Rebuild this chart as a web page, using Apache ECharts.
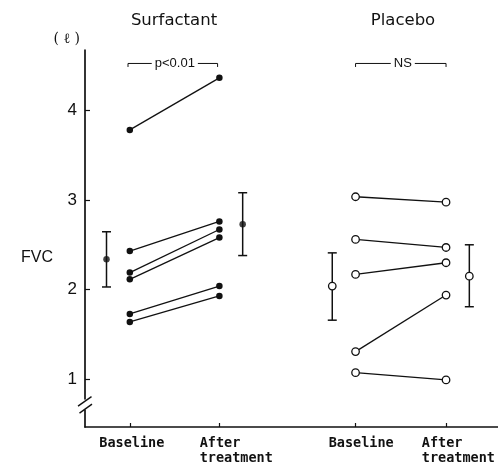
<!DOCTYPE html>
<html>
<head>
<meta charset="utf-8">
<script src="https://cdn.jsdelivr.net/npm/echarts@6/dist/echarts.min.js"></script>
<style>
  html, body { margin: 0; padding: 0; background: #fff; }
  #chart { width: 498px; height: 467px; }
</style>
</head>
<body>
<div id="chart"></div>
<script>
// FVC (litres) per patient, before and after treatment
const groupNames = ['Surfactant', 'Placebo'];
const timeLabels = ['Baseline', 'After\ntreatment'];
const yTicks = [1, 2, 3, 4];

const surfactantBaseline = [3.78, 2.43, 2.19, 2.115, 1.73, 1.64];
const surfactantAfter    = [4.36, 2.76, 2.67, 2.58, 2.04, 1.93];
const placeboBaseline    = [3.035, 2.56, 2.17, 1.31, 1.075];
const placeboAfter       = [2.975, 2.47, 2.30, 1.94, 0.995];

// group mean with lower / upper SD limits: [baseline, after]
const surfactantMean = [2.34, 2.73];
const surfactantLow  = [2.03, 2.38];
const surfactantHigh = [2.645, 3.08];
const placeboMean    = [2.04, 2.15];
const placeboLow     = [1.66, 1.81];
const placeboHigh    = [2.41, 2.50];

const significance = ['p<0.01', 'NS'];

// ---- layout (x positions on the horizontal value axis) ----
const slotX = { surfactant: [0.5, 1.5], placebo: [3.02, 4.03] };
const meanOffset = 0.26;
const labelLeftX = [0.16, 1.28, 2.72, 3.76];
const bracketY = 4.52;
const breakY = 0.72;

const ink = '#111';
const monoFont = '"DejaVu Sans Mono", monospace';

const tickXs = [...slotX.surfactant, ...slotX.placebo];
const labelText = {};
labelLeftX.forEach((v, i) => { labelText[v.toFixed(2)] = timeLabels[i % 2]; });

function pairSeries(base, after, xs, filled) {
  return base.map((b, i) => ({
    type: 'line',
    data: [[xs[0], b], [xs[1], after[i]]],
    symbol: 'circle',
    symbolSize: filled ? 6.5 : 7.5,
    lineStyle: { color: ink, width: 1.3 },
    itemStyle: filled
      ? { color: ink }
      : { color: '#fff', borderColor: ink, borderWidth: 1.3 },
    z: 3,
    silent: true
  }));
}

function meanRows(xs, mean, low, high) {
  return [
    [xs[0] - meanOffset, mean[0], low[0], high[0]],
    [xs[1] + meanOffset, mean[1], low[1], high[1]]
  ];
}
const surfMeanRows = meanRows(slotX.surfactant, surfactantMean, surfactantLow, surfactantHigh);
const placMeanRows = meanRows(slotX.placebo, placeboMean, placeboLow, placeboHigh);

const errorBarSeries = {
  type: 'custom',
  data: [...surfMeanRows, ...placMeanRows],
  encode: { x: 0, y: [1, 2, 3] },
  silent: true,
  z: 2,
  renderItem(params, api) {
    const x = api.value(0);
    const lo = api.coord([x, api.value(2)]);
    const hi = api.coord([x, api.value(3)]);
    const half = 4.5;
    const st = { stroke: ink, lineWidth: 1.5 };
    return {
      type: 'group',
      children: [
        { type: 'line', shape: { x1: lo[0], y1: lo[1], x2: hi[0], y2: hi[1] }, style: st },
        { type: 'line', shape: { x1: lo[0] - half, y1: lo[1], x2: lo[0] + half, y2: lo[1] }, style: st },
        { type: 'line', shape: { x1: hi[0] - half, y1: hi[1], x2: hi[0] + half, y2: hi[1] }, style: st }
      ]
    };
  }
};

const bracketSeries = {
  type: 'custom',
  data: [
    [slotX.surfactant[0] - 0.02, slotX.surfactant[1] - 0.02, bracketY, significance[0]],
    [slotX.placebo[0], slotX.placebo[1], bracketY, significance[1]]
  ],
  encode: { x: [0, 1], y: 2 },
  silent: true,
  clip: false,
  renderItem(params, api) {
    const a = api.coord([api.value(0), api.value(2)]);
    const b = api.coord([api.value(1), api.value(2)]);
    const st = { stroke: ink, lineWidth: 1 };
    return {
      type: 'group',
      children: [
        { type: 'line', shape: { x1: a[0], y1: a[1], x2: b[0], y2: b[1] }, style: st },
        { type: 'line', shape: { x1: a[0], y1: a[1], x2: a[0], y2: a[1] + 3.5 }, style: st },
        { type: 'line', shape: { x1: b[0], y1: b[1], x2: b[0], y2: b[1] + 3.5 }, style: st },
        {
          type: 'text',
          x: (a[0] + b[0]) / 2 + 2,
          y: a[1],
          style: {
            text: api.value(3),
            fill: ink,
            font: '13px "Liberation Sans Narrow", "Liberation Sans", sans-serif',
            align: 'center',
            verticalAlign: 'middle',
            backgroundColor: '#fff',
            padding: [0, 3]
          }
        }
      ]
    };
  }
};

const axisBreakSeries = {
  type: 'custom',
  data: [[0, breakY]],
  silent: true,
  clip: false,
  z: 10,
  renderItem(params, api) {
    const c = api.coord([api.value(0), api.value(1)]);
    const st = { stroke: ink, lineWidth: 1.4 };
    return {
      type: 'group',
      children: [
        { type: 'rect', shape: { x: c[0] - 3, y: c[1] - 5, width: 6, height: 10 }, style: { fill: '#fff' } },
        { type: 'line', shape: { x1: c[0] - 7, y1: c[1] + 1.5, x2: c[0] + 6.5, y2: c[1] - 8 }, style: st },
        { type: 'line', shape: { x1: c[0] - 5.5, y1: c[1] + 8.5, x2: c[0] + 7, y2: c[1] - 0.5 }, style: st }
      ]
    };
  }
};

const option = {
  animation: false,
  backgroundColor: '#fff',
  title: [
    { text: groupNames[0], left: 169, top: 7, textAlign: 'center',
      textStyle: { fontFamily: '"DejaVu Sans", sans-serif', fontSize: 16.5, fontWeight: 'normal', color: ink } },
    { text: groupNames[1], left: 398, top: 7, textAlign: 'center',
      textStyle: { fontFamily: '"DejaVu Sans", sans-serif', fontSize: 16.5, fontWeight: 'normal', color: ink } },
    { text: 'FVC', left: 16, top: 245,
      textStyle: { fontFamily: '"Liberation Sans", sans-serif', fontSize: 16, fontWeight: 'normal', color: ink } }
  ],
  grid: { left: 85, right: 0, top: 50, bottom: 40, containLabel: false },
  xAxis: {
    type: 'value',
    min: 0,
    max: 4.61,
    axisLine: { show: true, lineStyle: { color: ink, width: 1.6 } },
    axisTick: { show: true, inside: true, length: 4, customValues: tickXs, lineStyle: { color: ink, width: 1.2 } },
    axisLabel: {
      show: true,
      customValues: labelLeftX,
      align: 'left',
      margin: 9,
      color: ink,
      fontFamily: monoFont,
      fontWeight: 'bold',
      fontSize: 13.5,
      lineHeight: 15,
      formatter: (v) => labelText[v.toFixed(2)] || ''
    },
    splitLine: { show: false }
  },
  yAxis: {
    type: 'value',
    min: 0.47,
    max: 4.67,
    name: '( \u2113 )',
    nameLocation: 'end',
    nameGap: 4,
    nameTextStyle: {
      fontFamily: '"DejaVu Serif", serif', fontSize: 14, color: ink,
      align: 'right', padding: [0, 5, 0, 0]
    },
    axisLine: { show: true, lineStyle: { color: ink, width: 1.7 } },
    axisTick: { show: true, inside: true, length: 5, customValues: yTicks, lineStyle: { color: ink, width: 1.2 } },
    axisLabel: {
      show: true,
      customValues: yTicks,
      margin: 8,
      color: ink,
      fontFamily: '"Liberation Sans Narrow", "Liberation Sans", sans-serif',
      fontSize: 17
    },
    splitLine: { show: false }
  },
  series: [
    ...pairSeries(surfactantBaseline, surfactantAfter, slotX.surfactant, true),
    ...pairSeries(placeboBaseline, placeboAfter, slotX.placebo, false),
    errorBarSeries,
    {
      type: 'scatter',
      data: surfMeanRows.map(r => [r[0], r[1]]),
      symbol: 'circle',
      symbolSize: 6.5,
      itemStyle: { color: ink },
      z: 4,
      silent: true
    },
    {
      type: 'scatter',
      data: placMeanRows.map(r => [r[0], r[1]]),
      symbol: 'circle',
      symbolSize: 7.5,
      itemStyle: { color: '#fff', borderColor: ink, borderWidth: 1.3, opacity: 1 },
      z: 4,
      silent: true
    },
    bracketSeries,
    axisBreakSeries
  ]
};

const chart = echarts.init(document.getElementById('chart'), null, { renderer: 'canvas' });
chart.setOption(option);
</script>
</body>
</html>
